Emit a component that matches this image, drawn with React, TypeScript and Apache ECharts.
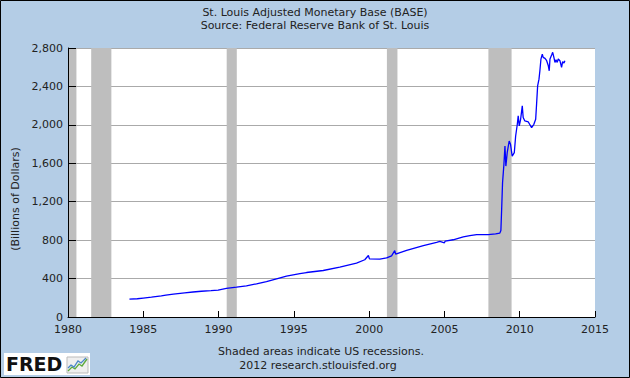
import React, { useEffect, useRef } from "react";
import * as echarts from "echarts";

// Decimal-year dates and St. Louis Adjusted Monetary Base (billions of dollars)
const dates: number[] = [
  1984.08, 1984.6, 1985.0, 1985.54, 1986.2, 1986.5, 1987.0, 1987.75, 1988.3, 1988.86,
  1989.5, 1989.97, 1990.52, 1991.19, 1991.85, 1992.52, 1993.18, 1993.85, 1994.51, 1995.4,
  1995.84, 1996.95, 1998.05, 1999.16, 1999.71, 1999.95, 2000.02, 2000.71, 2001.16, 2001.49,
  2001.7, 2001.76, 2002.49, 2003.6, 2004.48, 2004.7, 2005.0, 2005.05, 2005.58, 2006.25,
  2006.69, 2007.14, 2007.91, 2008.4, 2008.68, 2008.75, 2008.8, 2008.86, 2008.95, 2009.02,
  2009.08, 2009.17, 2009.3, 2009.39, 2009.5, 2009.64, 2009.73, 2009.84, 2009.9, 2009.97,
  2010.06, 2010.17, 2010.23, 2010.34, 2010.57, 2010.79, 2010.94, 2011.06, 2011.12, 2011.19,
  2011.28, 2011.34, 2011.41, 2011.5, 2011.56, 2011.68, 2011.79, 2011.9, 2011.96, 2012.01,
  2012.12, 2012.19, 2012.27, 2012.34, 2012.41, 2012.49, 2012.56, 2012.67, 2012.78, 2012.85,
  2012.94, 2013.0,
];
const baseValues: number[] = [
  186, 190, 197, 206, 219, 228, 238, 251, 260, 268,
  274, 279, 298, 310, 324, 345, 369, 397, 425, 452,
  463, 484, 519, 561, 596, 640, 605, 603, 616, 637,
  690, 655, 693, 742, 777, 787, 772, 790, 804, 833,
  846, 858, 858, 865, 874, 900, 1118, 1397, 1588, 1780,
  1571, 1710, 1832, 1797, 1675, 1710, 1884, 2006, 2093, 1989,
  2058, 2198, 2076, 2041, 2030, 1971, 2006, 2058, 2215, 2406,
  2476, 2563, 2685, 2737, 2703, 2692, 2668, 2615, 2563, 2685,
  2727, 2755, 2703, 2650, 2678, 2650, 2685, 2668, 2598, 2657,
  2643, 2668,
];

// US recessions (decimal years)
const recessionStarts: number[] = [1980.07, 1981.54, 1990.54, 2001.18, 2007.92];
const recessionEnds: number[] = [1980.56, 1982.88, 1991.21, 2001.88, 2009.46];

const xTicks = { min: 1980, max: 2015, interval: 5 };
const yTicks = { min: 0, max: 2800, interval: 400 };

const FONT = "DejaVu Sans";
const TEXT = "#222222";

export default function App() {
  const ref = useRef<HTMLDivElement>(null);

  useEffect(() => {
    document.body.style.margin = "0";
    if (!ref.current) return;
    const chart = echarts.init(ref.current, undefined, { renderer: "svg" });

    const seriesData = dates.map((d, i) => [d, baseValues[i]]);
    const areas = recessionStarts.map((s, i) => [{ xAxis: s }, { xAxis: recessionEnds[i] }]);

    const yCommon = {
      type: "value" as const,
      min: yTicks.min,
      max: yTicks.max,
      interval: yTicks.interval,
    };

    chart.setOption({
      animation: false,
      backgroundColor: "#B4CDE6",
      textStyle: { fontFamily: FONT },
      title: {
        left: "center",
        top: 2,
        text: "St. Louis Adjusted Monetary Base (BASE)",
        subtext: "Source: Federal Reserve Bank of St. Louis",
        itemGap: 2,
        textStyle: { fontFamily: FONT, fontSize: 11, fontWeight: "normal", color: TEXT },
        subtextStyle: { fontFamily: FONT, fontSize: 11, color: TEXT },
      },
      grid: {
        left: 68,
        right: 35,
        top: 48,
        bottom: 61,
        show: true,
        backgroundColor: "#FFFFFF",
        borderWidth: 0,
      },
      xAxis: {
        type: "value",
        min: xTicks.min,
        max: xTicks.max,
        interval: xTicks.interval,
        z: 3,
        axisLine: { show: true, lineStyle: { color: "#000", width: 1 } },
        axisTick: { show: true, inside: true, length: 6, lineStyle: { color: "#000" } },
        axisLabel: {
          margin: 7,
          fontFamily: FONT,
          fontSize: 11,
          color: TEXT,
          formatter: (v: number) => String(v),
        },
        splitLine: { show: false },
      },
      yAxis: [
        {
          ...yCommon,
          z: 0,
          axisLine: { show: false },
          axisTick: { show: false },
          axisLabel: { show: false },
          splitLine: { show: true, lineStyle: { color: "#AAAAAA", width: 1 } },
        },
        {
          ...yCommon,
          position: "left",
          z: 3,
          axisLine: { show: true, lineStyle: { color: "#000", width: 1 } },
          axisTick: { show: true, inside: true, length: 8, lineStyle: { color: "#000" } },
          axisLabel: { margin: 5, fontFamily: FONT, fontSize: 11, color: TEXT },
          splitLine: { show: false },
        },
      ],
      series: [
        {
          type: "line",
          yAxisIndex: 0,
          data: seriesData,
          showSymbol: false,
          symbol: "none",
          z: 2,
          lineStyle: { color: "#0000FF", width: 1.3 },
          markArea: {
            silent: true,
            itemStyle: { color: "#BEBEBE", opacity: 1 },
            label: { show: false },
            data: areas,
          },
        },
      ],
      graphic: [
        {
          type: "rect",
          silent: true,
          z: 100,
          shape: { x: 0.5, y: 0.5, width: 629, height: 377 },
          style: { fill: "none", stroke: "#000", lineWidth: 1 },
        },
        {
          type: "text",
          x: 15,
          y: 199,
          rotation: Math.PI / 2,
          style: {
            text: "(Billions of Dollars)",
            fontFamily: FONT,
            fontSize: 11,
            fill: TEXT,
            align: "center",
            verticalAlign: "middle",
          },
        },
        {
          type: "text",
          x: 321,
          y: 351,
          style: {
            text: "Shaded areas indicate US recessions.",
            fontFamily: FONT,
            fontSize: 11,
            fill: TEXT,
            align: "center",
            verticalAlign: "middle",
          },
        },
        {
          type: "text",
          x: 318,
          y: 365,
          style: {
            text: "2012 research.stlouisfed.org",
            fontFamily: FONT,
            fontSize: 11,
            fill: TEXT,
            align: "center",
            verticalAlign: "middle",
          },
        },
        {
          type: "group",
          children: [
            {
              type: "rect",
              shape: { x: 4, y: 353, width: 86, height: 22 },
              style: { fill: "#FFFFFF" },
            },
            {
              type: "text",
              x: 6,
              y: 364,
              style: {
                text: "FRED",
                fontFamily: FONT,
                fontWeight: "bold",
                fontSize: 19,
                fill: "#111111",
                align: "left",
                verticalAlign: "middle",
              },
            },
            {
              type: "rect",
              shape: { x: 67, y: 357, width: 21, height: 16 },
              style: { fill: "#EFEFEF", stroke: "#BBBBBB", lineWidth: 1 },
            },
            {
              type: "polyline",
              shape: { points: [[68, 371], [72, 367], [75, 369], [79, 364], [82, 366], [87, 359]] },
              style: { stroke: "#5DAA3C", lineWidth: 1.3, fill: "none" },
            },
            {
              type: "polyline",
              shape: { points: [[68, 368], [71, 365], [74, 367], [78, 361], [81, 363], [86, 358]] },
              style: { stroke: "#4A86C8", lineWidth: 1.3, fill: "none" },
            },
          ],
        },
      ],
    });

    return () => chart.dispose();
  }, []);

  return <div ref={ref} style={{ width: 630, height: 378 }} />;
}
